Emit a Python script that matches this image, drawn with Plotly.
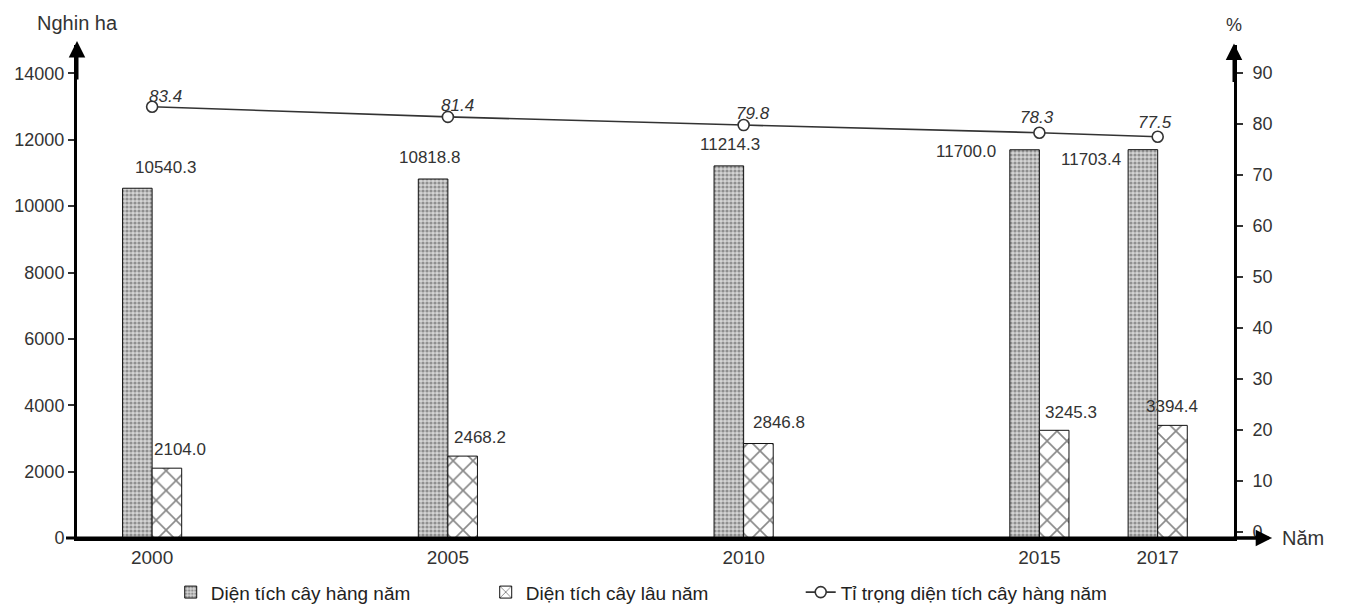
import plotly.graph_objects as go

# Data
years = [2000, 2005, 2010, 2015, 2017]
year_labels = ["2000", "2005", "2010", "2015", "2017"]
annual_area = [10540.3, 10818.8, 11214.3, 11700.0, 11703.4]      # nghìn ha
perennial_area = [2104.0, 2468.2, 2846.8, 3245.3, 3394.4]        # nghìn ha
annual_share = [83.4, 81.4, 79.8, 78.3, 77.5]                    # %

left_ticks = [0, 2000, 4000, 6000, 8000, 10000, 12000, 14000]
right_ticks = [0, 10, 20, 30, 40, 50, 60, 70, 80, 90]

FONT = "Liberation Sans, Arial, sans-serif"
TXT = "#333333"

# Label offsets in pixels (dx, dy) from each mark
annual_off = [(13, 21), (-18, 22), (-14, 21), (-73, -2), (-67, -10)]
perennial_off = [(28, 19), (32, 19), (35, 21), (32, 18), (14, 19)]
share_off = [(13, 10), (10, 11), (9, 12), (-2, 15), (-3, 14)]

fig = go.Figure()

fig.add_trace(go.Bar(
    x=years, y=annual_area, name="Diện tích cây hàng năm",
    width=0.5, offset=-0.5,
    marker=dict(color="#d0d0d0", line=dict(color="#111111", width=1),
                pattern=dict(shape=".", fgcolor="#4a4a4a", bgcolor="#d4d4d4",
                             size=4, solidity=0.5)),
))
fig.add_trace(go.Bar(
    x=years, y=perennial_area, name="Diện tích cây lâu năm",
    width=0.5, offset=0,
    marker=dict(color="white", line=dict(color="#111111", width=1),
                pattern=dict(shape="x", fgcolor="#111111", bgcolor="white",
                             size=14, solidity=0.22)),
))
fig.add_trace(go.Scatter(
    x=years, y=annual_share, name="Tỉ trọng diện tích cây hàng năm",
    yaxis="y2", mode="lines+markers",
    line=dict(color="#333333", width=1.6),
    marker=dict(symbol="circle", size=11, color="white",
                line=dict(color="#333333", width=1.6)),
))

annotations = []
for x, v, (dx, dy) in zip(years, annual_area, annual_off):
    annotations.append(dict(x=x, y=v, xref="x", yref="y", text=f"{v:.1f}",
                            showarrow=False, xshift=dx, yshift=dy,
                            font=dict(size=17, color=TXT, family=FONT)))
for x, v, (dx, dy) in zip(years, perennial_area, perennial_off):
    annotations.append(dict(x=x, y=v, xref="x", yref="y", text=f"{v:.1f}",
                            showarrow=False, xshift=dx, yshift=dy,
                            font=dict(size=17, color=TXT, family=FONT)))
for x, v, (dx, dy) in zip(years, annual_share, share_off):
    annotations.append(dict(x=x, y=v, xref="x", yref="y2", text=f"<i>{v:.1f}</i>",
                            showarrow=False, xshift=dx, yshift=dy,
                            font=dict(size=17, color=TXT, family=FONT)))

# Axis titles
annotations += [
    dict(x=-0.036, y=1.045, xref="paper", yref="paper", text="Nghin ha",
         showarrow=False, xanchor="left", yanchor="middle",
         font=dict(size=20, color=TXT, family=FONT)),
    dict(x=1.0, y=1.04, xref="paper", yref="paper", text="%",
         showarrow=False, xanchor="center", yanchor="middle",
         font=dict(size=18, color=TXT, family=FONT)),
    dict(x=1.04, y=0.0, xref="paper", yref="paper", text="Năm",
         showarrow=False, xanchor="left", yanchor="middle",
         font=dict(size=20, color=TXT, family=FONT)),
]

# Arrow heads on the axes
arrow_style = dict(showarrow=True, arrowhead=2, arrowsize=1.1, arrowwidth=3,
                   arrowcolor="black", text="", xref="paper", yref="paper")
annotations += [
    dict(x=0, y=1.008, ax=0, ay=40, **arrow_style),
    dict(x=1, y=1.003, ax=0, ay=40, **arrow_style),
    dict(x=1.033, y=0, ax=-40, ay=0, **arrow_style),
]

shapes = [
    # x axis extends slightly past both vertical axes
    dict(type="line", xref="paper", yref="paper", x0=-0.0095, x1=1.03, y0=0, y1=0,
         line=dict(color="black", width=3)),
]

fig.update_layout(
    width=1345, height=610,
    margin=dict(l=77, r=111, t=45, b=72, autoexpand=False),
    paper_bgcolor="white", plot_bgcolor="white",
    font=dict(family=FONT, color=TXT, size=18),
    barmode="overlay",
    showlegend=True,
    legend=dict(orientation="h", x=0.081, y=-0.11, xanchor="left", yanchor="middle",
                font=dict(size=19, color="#222222", family=FONT),
                traceorder="normal", itemwidth=30,
                entrywidth=270, entrywidthmode="pixels"),
    xaxis=dict(range=[1998.73, 2018.29], tickvals=years, ticktext=year_labels,
               showgrid=False, zeroline=False, showline=True, linecolor="black",
               linewidth=3, ticks="", tickfont=dict(size=19, color=TXT)),
    yaxis=dict(range=[0, 14857], tickvals=left_ticks, tickformat="d",
               showgrid=False, zeroline=False,
               showline=True, linecolor="black", linewidth=3, ticks="outside",
               ticklen=6, tickwidth=1.5, tickcolor="#333333",
               tickfont=dict(size=18, color=TXT)),
    yaxis2=dict(range=[-1.18, 95.5], tickvals=right_ticks, overlaying="y", side="right",
                showgrid=False, zeroline=False, showline=True, linecolor="black",
                linewidth=3, ticks="outside", ticklen=6, tickwidth=1.5,
                tickcolor="#333333", ticklabelstandoff=6,
                tickfont=dict(size=18, color=TXT)),
    annotations=annotations,
    shapes=shapes,
)

fig.write_html("out.html")
